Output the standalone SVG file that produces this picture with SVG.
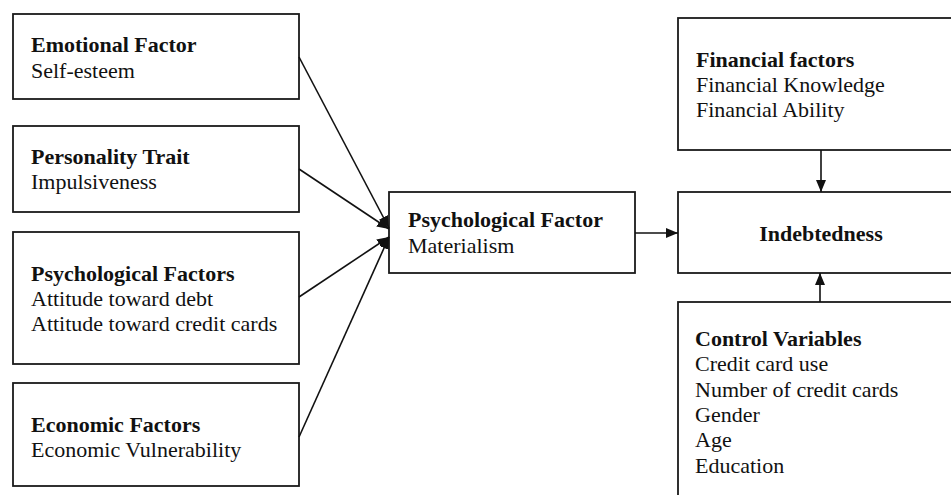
<svg xmlns="http://www.w3.org/2000/svg" width="951" height="495" viewBox="0 0 951 495">
<style>
.box{fill:#fff;stroke:#1a1a1a;stroke-width:1.8}
text{font-family:"Liberation Serif","Times New Roman",serif;font-size:22px;fill:#111}
.b{font-weight:bold}
.c{stroke:#111;stroke-width:1.6;fill:none}
</style>
<defs>
<marker id="ah" viewBox="0 0 12 10" refX="12" refY="5" markerWidth="12" markerHeight="10" markerUnits="userSpaceOnUse" orient="auto">
<path d="M0,0 L12,5 L0,10 Z" fill="#111"/>
</marker>
</defs>
<rect width="951" height="495" fill="#fff"/>
<g id="emotional">
<rect class="box" x="13" y="14" width="286" height="85"/>
<text x="31" y="52" class="b">Emotional Factor</text>
<text x="31" y="78">Self-esteem</text>
</g>
<g id="personality">
<rect class="box" x="13" y="126" width="286" height="86"/>
<text x="31" y="164" class="b">Personality Trait</text>
<text x="31" y="189">Impulsiveness</text>
</g>
<g id="psychological-factors">
<rect class="box" x="13" y="232" width="286" height="132"/>
<text x="31" y="281" class="b">Psychological Factors</text>
<text x="31" y="306">Attitude toward debt</text>
<text x="31" y="331">Attitude toward credit cards</text>
</g>
<g id="economic">
<rect class="box" x="13" y="383" width="286" height="103"/>
<text x="31" y="432" class="b">Economic Factors</text>
<text x="31" y="457">Economic Vulnerability</text>
</g>
<g id="materialism">
<rect class="box" x="389" y="192" width="246" height="81"/>
<text x="408" y="227" class="b">Psychological Factor</text>
<text x="408" y="253">Materialism</text>
</g>
<g id="financial">
<rect class="box" x="678" y="18" width="285" height="132"/>
<text x="696" y="67" class="b">Financial factors</text>
<text x="696" y="92">Financial Knowledge</text>
<text x="696" y="117">Financial Ability</text>
</g>
<g id="indebtedness">
<rect class="box" x="678" y="192" width="285" height="81"/>
<text x="821" y="241" class="b" text-anchor="middle">Indebtedness</text>
</g>
<g id="control">
<rect class="box" x="678" y="302" width="285" height="210"/>
<text x="695" y="346" class="b">Control Variables</text>
<text x="695" y="371">Credit card use</text>
<text x="695" y="397">Number of credit cards</text>
<text x="695" y="422">Gender</text>
<text x="695" y="447">Age</text>
<text x="695" y="473">Education</text>
</g>
<g id="connectors">
<line class="c" x1="299" y1="57" x2="389" y2="228" marker-end="url(#ah)"/>
<line class="c" x1="299" y1="169" x2="389" y2="229" marker-end="url(#ah)"/>
<line class="c" x1="299" y1="297" x2="389" y2="237" marker-end="url(#ah)"/>
<line class="c" x1="299" y1="437" x2="389" y2="237" marker-end="url(#ah)"/>
<line class="c" x1="635" y1="233" x2="678" y2="233" marker-end="url(#ah)"/>
<line class="c" x1="821" y1="150" x2="821" y2="192" marker-end="url(#ah)"/>
<line class="c" x1="820" y1="302" x2="820" y2="273" marker-end="url(#ah)"/>
</g>
</svg>
